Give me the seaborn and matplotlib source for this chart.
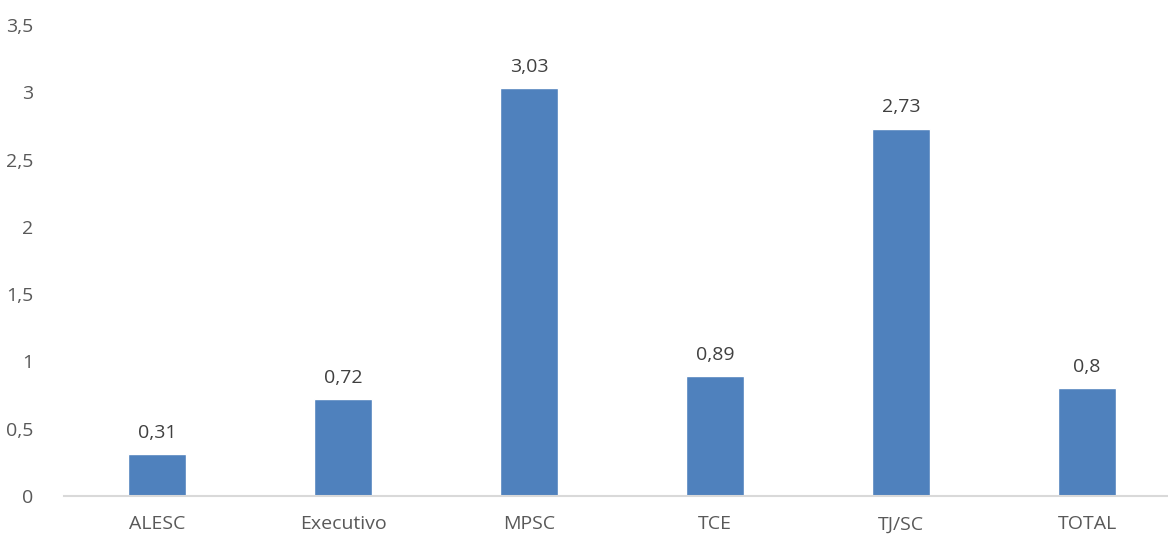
import matplotlib
matplotlib.use("Agg")
import matplotlib.pyplot as plt
import seaborn as sns
import pandas as pd

# data
categories = ["ALESC", "Executivo", "MPSC", "TCE", "TJ/SC", "TOTAL"]
values = [0.31, 0.72, 3.03, 0.89, 2.73, 0.8]
value_labels = ["0,31", "0,72", "3,03", "0,89", "2,73", "0,8"]
yticks = [0, 0.5, 1, 1.5, 2, 2.5, 3, 3.5]
ytick_labels = ["0", "0,5", "1", "1,5", "2", "2,5", "3", "3,5"]

df = pd.DataFrame({"cat": categories, "val": values})

sns.set_style("white")
plt.rcParams["font.family"] = ["Open Sans", "DejaVu Sans"]

W, H = 1168, 535
fig = plt.figure(figsize=(W / 100, H / 100), dpi=100)
ax = fig.add_axes([64 / W, 39 / H, 1116 / W, 471 / H])

sns.barplot(data=df, x="cat", y="val", color="#4F81BD", saturation=1,
            width=0.31, ax=ax)

for i, (v, lab) in enumerate(zip(values, value_labels)):
    ax.annotate(lab, (i, v), xytext=(0, 9), textcoords="offset points",
                ha="center", va="bottom", fontsize=14, color="#404040")

ax.set_ylim(0, 3.5)
ax.set_xlim(-0.5, 5.5)
ax.set_yticks(yticks)
ax.set_yticklabels(ytick_labels)
ax.set_xlabel("")
ax.set_ylabel("")
ax.tick_params(axis="both", length=0, labelsize=14, labelcolor="#595959")
ax.tick_params(axis="y", pad=22)
ax.tick_params(axis="x", pad=14)
for s in ["top", "right", "left"]:
    ax.spines[s].set_visible(False)
ax.spines["bottom"].set_color("#D9D9D9")
ax.spines["bottom"].set_linewidth(1.5)

fig.savefig("out.png", dpi=100)
